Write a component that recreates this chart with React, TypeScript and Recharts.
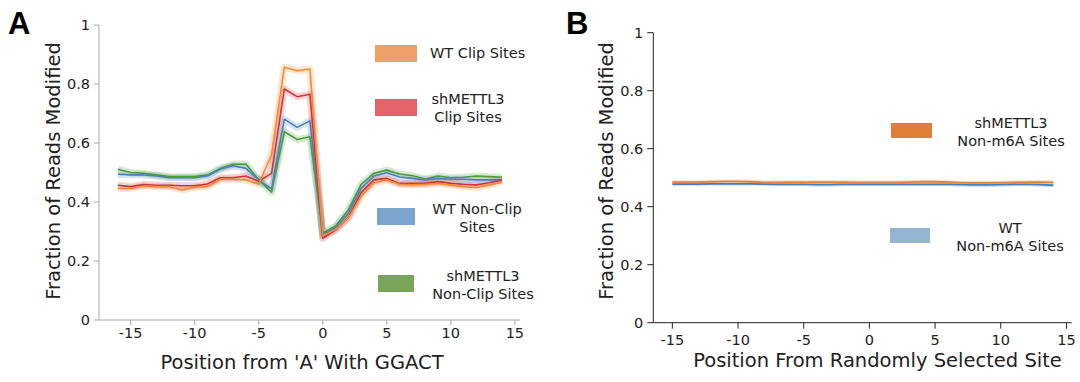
import React from 'react';
import { LineChart, Line, XAxis, YAxis, Legend, Label } from 'recharts';

// ---------- Data ----------
const positionsA = [-16, -15, -14, -13, -12, -11, -10, -9, -8, -7, -6, -5, -4, -3, -2, -1, 0, 1, 2, 3, 4, 5, 6, 7, 8, 9, 10, 11, 12, 13, 14];
const wtClip = [0.446, 0.446, 0.454, 0.452, 0.452, 0.441, 0.45, 0.452, 0.477, 0.477, 0.475, 0.46, 0.56, 0.857, 0.845, 0.851, 0.285, 0.307, 0.345, 0.42, 0.465, 0.475, 0.46, 0.458, 0.46, 0.463, 0.458, 0.452, 0.449, 0.458, 0.468];
const shClip = [0.457, 0.452, 0.459, 0.457, 0.457, 0.455, 0.455, 0.461, 0.482, 0.482, 0.488, 0.47, 0.497, 0.783, 0.757, 0.765, 0.277, 0.305, 0.348, 0.432, 0.475, 0.48, 0.463, 0.463, 0.463, 0.469, 0.463, 0.46, 0.458, 0.465, 0.475];
const wtNonClip = [0.494, 0.492, 0.492, 0.488, 0.482, 0.482, 0.482, 0.488, 0.511, 0.523, 0.514, 0.475, 0.444, 0.681, 0.653, 0.675, 0.289, 0.313, 0.362, 0.446, 0.488, 0.499, 0.485, 0.48, 0.475, 0.48, 0.477, 0.477, 0.475, 0.475, 0.475];
const shNonClip = [0.511, 0.5, 0.497, 0.492, 0.486, 0.486, 0.486, 0.492, 0.514, 0.528, 0.529, 0.475, 0.433, 0.638, 0.612, 0.621, 0.294, 0.319, 0.373, 0.46, 0.497, 0.508, 0.495, 0.489, 0.478, 0.488, 0.482, 0.484, 0.488, 0.486, 0.484];

const positionsB = [-15, -14, -13, -12, -11, -10, -9, -8, -7, -6, -5, -4, -3, -2, -1, 0, 1, 2, 3, 4, 5, 6, 7, 8, 9, 10, 11, 12, 13, 14];
const shNonM6A = [0.485, 0.485, 0.485, 0.486, 0.487, 0.487, 0.486, 0.484, 0.484, 0.485, 0.485, 0.485, 0.485, 0.485, 0.484, 0.484, 0.484, 0.484, 0.485, 0.486, 0.486, 0.485, 0.483, 0.482, 0.482, 0.483, 0.484, 0.485, 0.485, 0.484];
const wtNonM6A = [0.478, 0.478, 0.478, 0.479, 0.479, 0.479, 0.479, 0.478, 0.477, 0.477, 0.477, 0.476, 0.476, 0.477, 0.477, 0.477, 0.477, 0.477, 0.477, 0.477, 0.477, 0.477, 0.476, 0.475, 0.475, 0.476, 0.477, 0.477, 0.476, 0.474];

const xTicks = [-15, -10, -5, 0, 5, 10, 15];
const yTicks = [0, 0.2, 0.4, 0.6, 0.8, 1];

const legendLabelsA = [['WT Clip Sites'], ['shMETTL3', 'Clip Sites'], ['WT Non-Clip', 'Sites'], ['shMETTL3', 'Non-Clip Sites']];
const legendLabelsB = [['shMETTL3', 'Non-m6A Sites'], ['WT', 'Non-m6A Sites']];

const dataA = positionsA.map((p, i) => ({
  pos: p,
  wtClip: wtClip[i],
  shClip: shClip[i],
  wtNonClip: wtNonClip[i],
  shNonClip: shNonClip[i],
}));
const dataB = positionsB.map((p, i) => ({ pos: p, shNonM6A: shNonM6A[i], wtNonM6A: wtNonM6A[i] }));

// ---------- Styles ----------
const FONT = '"DejaVu Sans", sans-serif';
const TXT = '#222';
const colA = { wtClip: '#f08a30', shClip: '#d0343a', wtNonClip: '#4c7fc0', shNonClip: '#4a9e3a' };
const patchA = ['#eea066', '#e2636a', '#7ba5cc', '#78a55a'];
const colB = { shNonM6A: '#e8822e', wtNonM6A: '#3f7fc4' };
const patchB = ['#e07f35', '#94b4d0'];

const fmtY = (v: number) => (v === 0 ? '0' : v === 1 ? '1' : v.toFixed(1));
const tickStyle = { fontFamily: FONT, fontSize: 14.5, fill: TXT };

const LegendText = ({ x, y, lines, align }: { x: number; y: number; lines: string[]; align: 'left' | 'center' }) => (
  <div
    style={{
      position: 'absolute',
      left: x,
      top: y,
      transform: align === 'center' ? 'translate(-50%, -50%)' : 'translate(0, -50%)',
      fontFamily: FONT,
      fontSize: 14.5,
      lineHeight: '18px',
      color: TXT,
      textAlign: align,
      whiteSpace: 'nowrap',
    }}
  >
    {lines.map((l, i) => (
      <div key={i}>{l}</div>
    ))}
  </div>
);

const Patch = ({ x, y, w, h, color }: { x: number; y: number; w: number; h: number; color: string }) => (
  <div style={{ position: 'absolute', left: x, top: y, width: w, height: h, background: color }} />
);

const LegendA = () => (
  <div style={{ position: 'relative', width: 540, height: 382 }}>
    <Patch x={375} y={45} w={42} h={17} color={patchA[0]} />
    <LegendText x={430} y={53} lines={legendLabelsA[0]} align="left" />
    <Patch x={375} y={99} w={42} h={17} color={patchA[1]} />
    <LegendText x={468} y={108} lines={legendLabelsA[1]} align="center" />
    <Patch x={377} y={208} w={38} h={17} color={patchA[2]} />
    <LegendText x={477} y={218} lines={legendLabelsA[2]} align="center" />
    <Patch x={378} y={275} w={36} h={17} color={patchA[3]} />
    <LegendText x={483} y={285} lines={legendLabelsA[3]} align="center" />
  </div>
);

const LegendB = () => (
  <div style={{ position: 'relative', width: 540, height: 382 }}>
    <Patch x={351} y={123} w={41} h={15} color={patchB[0]} />
    <LegendText x={471} y={132} lines={legendLabelsB[0]} align="center" />
    <Patch x={350} y={228} w={40} h={15} color={patchB[1]} />
    <LegendText x={470} y={237} lines={legendLabelsB[1]} align="center" />
  </div>
);

const bandLine = (key: string, color: string, width: number) => (
  <Line
    key={'band-' + key}
    dataKey={key}
    stroke={color}
    strokeOpacity={0.22}
    strokeWidth={width}
    dot={false}
    activeDot={false}
    legendType="none"
    isAnimationActive={false}
    strokeLinejoin="round"
  />
);

const mainLine = (key: string, color: string, width: number) => (
  <Line
    key={'line-' + key}
    dataKey={key}
    stroke={color}
    strokeWidth={width}
    dot={false}
    activeDot={false}
    isAnimationActive={false}
    strokeLinejoin="round"
  />
);

const yTitle = (cx: number, cy: number) => () => (
  <text
    x={cx}
    y={cy}
    transform={`rotate(-90, ${cx}, ${cy})`}
    textAnchor="middle"
    dominantBaseline="central"
    style={{ fontFamily: FONT, fontSize: 19.5, fill: TXT }}
  >
    Fraction of Reads Modified
  </text>
);

const xTitle = (cx: number, cy: number, value: string) => () => (
  <text x={cx} y={cy} textAnchor="middle" dominantBaseline="central" style={{ fontFamily: FONT, fontSize: 19.5, fill: TXT }}>
    {value}
  </text>
);

export default function App() {
  const axisA = '#a8a8a8';
  const axisB = '#222';
  return (
    <div style={{ position: 'absolute', left: 0, top: 0, width: 1080, height: 382, background: '#fff' }}>
      <div style={{ position: 'absolute', left: 0, top: 0 }}>
        <LineChart width={540} height={382} data={dataA} margin={{ top: 25, right: 20, bottom: 22, left: 7 }}>
          <XAxis
            dataKey="pos"
            type="number"
            domain={[-17.47, 15.4]}
            ticks={xTicks}
            interval={0}
            allowDataOverflow
            height={40}
            stroke={axisA}
            tickLine={{ stroke: axisA }}
            tickSize={5}
            tickMargin={3}
            tick={tickStyle}
          >
            <Label content={xTitle(302, 362, "Position from 'A' With GGACT")} />
          </XAxis>
          <YAxis
            type="number"
            domain={[0, 1]}
            ticks={yTicks}
            interval={0}
            width={92}
            stroke={axisA}
            tickLine={{ stroke: axisA }}
            tickSize={5}
            tickMargin={4}
            tick={tickStyle}
            tickFormatter={fmtY}
          >
            <Label content={yTitle(53, 171)} />
          </YAxis>
          <Legend
            layout="horizontal"
            align="center"
            verticalAlign="middle"
            content={() => <LegendA />}
            wrapperStyle={{ position: 'absolute', left: 0, top: 0, width: 540, height: 382, pointerEvents: 'none' }}
          />
          {bandLine('wtClip', colA.wtClip, 7)}
          {bandLine('shClip', colA.shClip, 7)}
          {bandLine('wtNonClip', colA.wtNonClip, 7)}
          {bandLine('shNonClip', colA.shNonClip, 7)}
          {mainLine('shNonClip', colA.shNonClip, 1.6)}
          {mainLine('wtNonClip', colA.wtNonClip, 1.6)}
          {mainLine('shClip', colA.shClip, 1.6)}
          {mainLine('wtClip', colA.wtClip, 1.6)}
        </LineChart>
      </div>
      <div style={{ position: 'absolute', left: 540, top: 0 }}>
        <LineChart width={540} height={382} data={dataB} margin={{ top: 32.7, right: 8.3, bottom: 19.3, left: 20 }}>
          <XAxis
            dataKey="pos"
            type="number"
            domain={[-16.45, 15.4]}
            ticks={xTicks}
            interval={0}
            allowDataOverflow
            height={40}
            stroke={axisB}
            tickLine={{ stroke: axisB }}
            tickSize={6}
            tickMargin={6}
            tick={tickStyle}
          >
            <Label content={xTitle(337.5, 360, 'Position From Randomly Selected Site')} />
          </XAxis>
          <YAxis
            type="number"
            domain={[0, 1]}
            ticks={yTicks}
            interval={0}
            width={93.3}
            stroke={axisB}
            tickLine={{ stroke: axisB }}
            tickSize={6}
            tickMargin={4}
            tick={tickStyle}
            tickFormatter={fmtY}
          >
            <Label content={yTitle(66.7, 171)} />
          </YAxis>
          <Legend
            layout="horizontal"
            align="center"
            verticalAlign="middle"
            content={() => <LegendB />}
            wrapperStyle={{ position: 'absolute', left: 0, top: 0, width: 540, height: 382, pointerEvents: 'none' }}
          />
          {bandLine('shNonM6A', colB.shNonM6A, 4)}
          {bandLine('wtNonM6A', colB.wtNonM6A, 4)}
          {mainLine('wtNonM6A', colB.wtNonM6A, 1.8)}
          {mainLine('shNonM6A', colB.shNonM6A, 1.8)}
        </LineChart>
      </div>
      <div style={{ position: 'absolute', left: 8, top: 7, fontFamily: '"Liberation Sans", Arial, sans-serif', fontWeight: 'bold', fontSize: 31, lineHeight: '34px', color: '#000' }}>
        A
      </div>
      <div style={{ position: 'absolute', left: 566, top: 7, fontFamily: '"Liberation Sans", Arial, sans-serif', fontWeight: 'bold', fontSize: 31, lineHeight: '34px', color: '#000' }}>
        B
      </div>
    </div>
  );
}
